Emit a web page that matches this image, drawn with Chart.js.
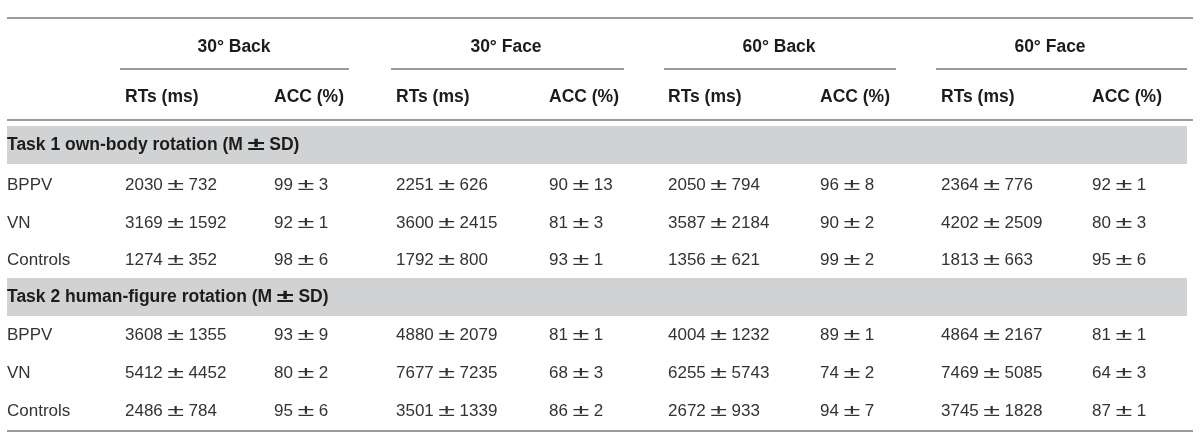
<!DOCTYPE html>
<html lang="en">

<head>
    <meta charset="UTF-8">
    <title>RTs and ACC by group</title>
    <script src="https://cdn.jsdelivr.net/npm/chart.js"></script>
    <style>
        html, body { margin: 0; padding: 0; background: #fff; }
        #wrap { width: 1200px; height: 448px; position: relative; }
    </style>
</head>

<body>
    <div id="wrap"><canvas id="tableChart"></canvas></div>

    <script>
        // Table content
        const conditions = ['30° Back', '30° Face', '60° Back', '60° Face'];
        const measures = ['RTs (ms)', 'ACC (%)'];
        const groups = ['BPPV', 'VN', 'Controls'];
        const tasks = ['Task 1 own-body rotation (M ± SD)', 'Task 2 human-figure rotation (M ± SD)'];

        // rows = groups, columns = conditions
        const task1RtMean = [[2030, 2251, 2050, 2364], [3169, 3600, 3587, 4202], [1274, 1792, 1356, 1813]];
        const task1RtSd = [[732, 626, 794, 776], [1592, 2415, 2184, 2509], [352, 800, 621, 663]];
        const task1AccMean = [[99, 90, 96, 92], [92, 81, 90, 80], [98, 93, 99, 95]];
        const task1AccSd = [[3, 13, 8, 1], [1, 3, 2, 3], [6, 1, 2, 6]];

        const task2RtMean = [[3608, 4880, 4004, 4864], [5412, 7677, 6255, 7469], [2486, 3501, 2672, 3745]];
        const task2RtSd = [[1355, 2079, 1232, 2167], [4452, 7235, 5743, 5085], [784, 1339, 933, 1828]];
        const task2AccMean = [[93, 81, 89, 81], [80, 68, 74, 64], [95, 86, 94, 87]];
        const task2AccSd = [[9, 1, 1, 1], [2, 3, 2, 3], [6, 2, 7, 1]];

        // Layout (scale units = pixels of the 1200x448 frame)
        const LABEL_X = 7;
        const RT_X = [125, 396, 668, 941];
        const ACC_X = [274, 549, 820, 1092];
        const COND_CENTER = [234, 506, 779, 1050];
        const COND_RULE = [[120, 349], [391, 624], [664, 896], [936, 1187]];
        const Y_COND = 47, Y_MEASURE = 97;
        const Y_TASK = [145, 297];
        const Y_ROWS = [[185, 223, 260], [335, 373, 411]];
        const BAND_H = 38;
        const TABLE_L = 7, TABLE_R = 1193, BAND_R = 1187;

        const FONT = '"Liberation Sans", Arial, sans-serif';
        const TEXT_COLOR = '#333';
        const HEAD_COLOR = '#1c1c1c';
        const PM_STRETCH = 1.8;   // the source uses a wide plus-minus glyph
        const PM_GAP = 4.5;

        const pm = (m, s) => m + ' \u00b1 ' + s;

        // one point per text cell
        const cells = [];
        conditions.forEach((c, i) => cells.push({ x: COND_CENTER[i], y: Y_COND, text: c, bold: true, align: 'center' }));
        conditions.forEach((c, i) => {
            cells.push({ x: RT_X[i], y: Y_MEASURE, text: measures[0], bold: true });
            cells.push({ x: ACC_X[i], y: Y_MEASURE, text: measures[1], bold: true });
        });
        const taskData = [
            [task1RtMean, task1RtSd, task1AccMean, task1AccSd],
            [task2RtMean, task2RtSd, task2AccMean, task2AccSd]
        ];
        tasks.forEach((t, k) => {
            cells.push({ x: LABEL_X, y: Y_TASK[k], text: t, bold: true });
            const [rtM, rtS, accM, accS] = taskData[k];
            groups.forEach((g, r) => {
                const y = Y_ROWS[k][r];
                cells.push({ x: LABEL_X, y: y, text: g });
                conditions.forEach((c, i) => {
                    cells.push({ x: RT_X[i], y: y, text: pm(rtM[r][i], rtS[r][i]) });
                    cells.push({ x: ACC_X[i], y: y, text: pm(accM[r][i], accS[r][i]) });
                });
            });
        });

        // text with a widened ± between the parts
        function drawCellText(ctx, text, x, y, align) {
            const parts = text.split(' \u00b1 ');
            if (parts.length === 1) {
                ctx.textAlign = align;
                ctx.fillText(text, x, y);
                return;
            }
            const w0 = ctx.measureText(parts[0]).width;
            const w1 = ctx.measureText(parts[1]).width;
            const wp = ctx.measureText('\u00b1').width * PM_STRETCH;
            const total = w0 + w1 + wp + 2 * PM_GAP;
            let cx = align === 'center' ? x - total / 2 : x;
            ctx.textAlign = 'left';
            ctx.fillText(parts[0], cx, y);
            cx += w0 + PM_GAP;
            ctx.save();
            ctx.translate(cx + wp / 2, y);
            ctx.scale(PM_STRETCH, 1);
            ctx.textAlign = 'center';
            ctx.fillText('\u00b1', 0, 0);
            ctx.restore();
            cx += wp + PM_GAP;
            ctx.fillText(parts[1], cx, y);
        }

        // rules and shaded bands, drawn through the scales
        const tableFrame = {
            id: 'tableFrame',
            beforeDatasetsDraw(chart) {
                const { ctx, scales: { x, y } } = chart;
                ctx.save();
                ctx.fillStyle = '#d1d2d4';
                Y_TASK.forEach(ty => {
                    const top = y.getPixelForValue(ty - BAND_H / 2);
                    const bot = y.getPixelForValue(ty + BAND_H / 2);
                    ctx.fillRect(x.getPixelForValue(TABLE_L), top, x.getPixelForValue(BAND_R) - x.getPixelForValue(TABLE_L), bot - top);
                });
                ctx.strokeStyle = '#7a7a7a';
                ctx.lineWidth = 1.7;
                const hline = (x0, x1, yy) => {
                    ctx.beginPath();
                    ctx.moveTo(x.getPixelForValue(x0), y.getPixelForValue(yy));
                    ctx.lineTo(x.getPixelForValue(x1), y.getPixelForValue(yy));
                    ctx.stroke();
                };
                hline(TABLE_L, TABLE_R, 18);
                COND_RULE.forEach(([a, b]) => hline(a, b, 69));
                hline(TABLE_L, TABLE_R, 120);
                hline(TABLE_L, TABLE_R, 431);
                ctx.restore();
            },
            afterDatasetsDraw(chart) {
                const { ctx } = chart;
                const meta = chart.getDatasetMeta(0);
                ctx.save();
                ctx.textBaseline = 'middle';
                meta.data.forEach((pt, i) => {
                    const d = cells[i];
                    ctx.font = (d.bold ? 'bold 17.5px ' : '17px ') + FONT;
                    ctx.fillStyle = d.bold ? HEAD_COLOR : TEXT_COLOR;
                    drawCellText(ctx, d.text, pt.x, pt.y, d.align || 'left');
                });
                ctx.restore();
            }
        };

        new Chart(document.getElementById('tableChart'), {
            type: 'scatter',
            data: {
                datasets: [{
                    data: cells,
                    pointRadius: 0,
                    pointHoverRadius: 0
                }]
            },
            options: {
                responsive: true,
                maintainAspectRatio: false,
                animation: false,
                layout: { padding: 0 },
                plugins: { legend: { display: false }, tooltip: { enabled: false } },
                scales: {
                    x: { type: 'linear', display: false, min: 0, max: 1200 },
                    y: { type: 'linear', display: false, min: 0, max: 448, reverse: true }
                }
            },
            plugins: [tableFrame]
        });
    </script>
</body>

</html>
